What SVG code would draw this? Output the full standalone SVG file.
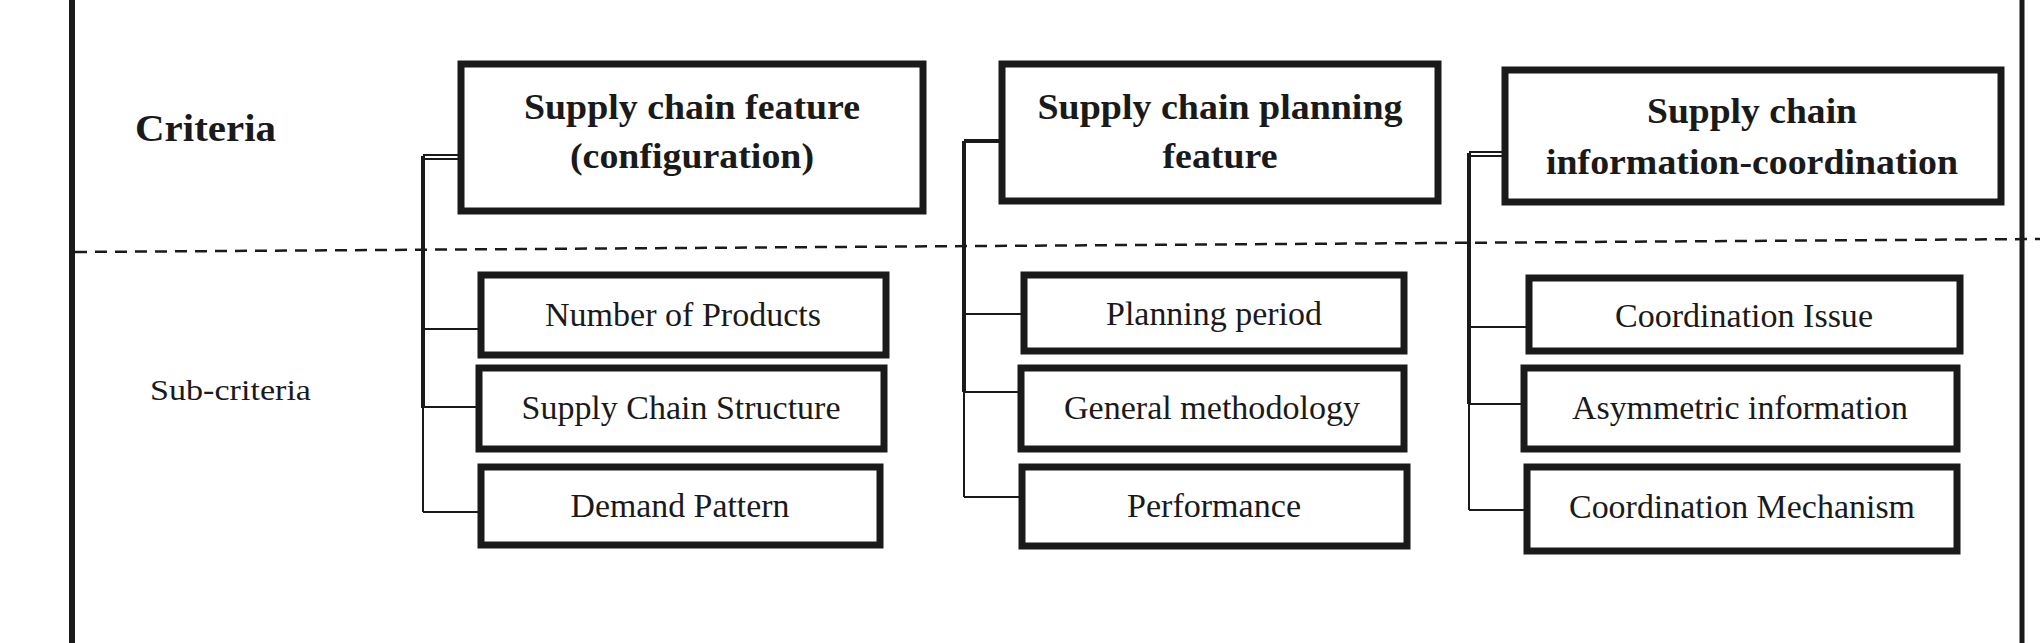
<svg xmlns="http://www.w3.org/2000/svg" width="2040" height="643" viewBox="0 0 2040 643">
<style>
.box{fill:#fff;stroke:#1a1a1a;stroke-width:7}
.h{font-family:"Liberation Serif",serif;font-weight:bold;font-size:36px;fill:#1a1a1a;text-anchor:middle}
.s{font-family:"Liberation Serif",serif;font-size:33px;fill:#1a1a1a;text-anchor:middle}
.thick{stroke:#1a1a1a;stroke-width:4;fill:none}
.thin{stroke:#1a1a1a;stroke-width:2;fill:none}
</style>
<rect width="2040" height="643" fill="#fff"/>
<line x1="72" y1="0" x2="72" y2="643" stroke="#1a1a1a" stroke-width="6"/>
<line x1="2022" y1="0" x2="2022" y2="643" stroke="#1a1a1a" stroke-width="5"/>
<line x1="75" y1="252" x2="2040" y2="239" stroke="#1a1a1a" stroke-width="2.5" stroke-dasharray="12,8"/>
<text x="135" y="141" font-family="Liberation Serif,serif" font-weight="bold" font-size="38" fill="#1a1a1a" textLength="141" lengthAdjust="spacingAndGlyphs">Criteria</text>
<text x="150" y="400" font-family="Liberation Serif,serif" font-size="30" fill="#1a1a1a" textLength="161" lengthAdjust="spacingAndGlyphs">Sub-criteria</text>
<g id="connectors">
<path class="thick" d="M423 156V408"/><path class="thin" d="M423 408V512"/>
<path class="thin" d="M423 155H461M423 159H461"/>
<path class="thin" d="M423 329H481M423 407H479M423 512H481"/>
<path class="thick" d="M964 141V392M964 141H1002"/><path class="thin" d="M964 392V497"/>
<path class="thin" d="M964 314H1023M964 392H1020M964 497H1022"/>
<path class="thick" d="M1469 153V404"/><path class="thin" d="M1469 404V510"/>
<path class="thin" d="M1469 152H1505M1469 156H1505"/>
<path class="thin" d="M1469 327H1529M1469 404H1524M1469 510H1527"/>
</g>
<g id="c1"><rect class="box" x="461" y="64" width="462" height="147"/>
<text class="h" x="692" y="119" textLength="336" lengthAdjust="spacingAndGlyphs">Supply chain feature</text>
<text class="h" x="692" y="168" textLength="244" lengthAdjust="spacingAndGlyphs">(configuration)</text></g>
<g id="c2"><rect class="box" x="1002" y="64" width="436" height="137"/>
<text class="h" x="1220" y="119" textLength="365" lengthAdjust="spacingAndGlyphs">Supply chain planning</text>
<text class="h" x="1220" y="168" textLength="115" lengthAdjust="spacingAndGlyphs">feature</text></g>
<g id="c3"><rect class="box" x="1505" y="70" width="496" height="132"/>
<text class="h" x="1752" y="123" textLength="210" lengthAdjust="spacingAndGlyphs">Supply chain</text>
<text class="h" x="1752" y="174" textLength="412" lengthAdjust="spacingAndGlyphs">information-coordination</text></g>
<g id="s11"><rect class="box" x="481" y="275" width="405" height="80"/><text class="s" x="683" y="326" textLength="276" lengthAdjust="spacingAndGlyphs">Number of Products</text></g>
<g id="s12"><rect class="box" x="479" y="368" width="405" height="81"/><text class="s" x="681" y="419" textLength="319" lengthAdjust="spacingAndGlyphs">Supply Chain Structure</text></g>
<g id="s13"><rect class="box" x="481" y="467" width="399" height="78"/><text class="s" x="680" y="517" textLength="219" lengthAdjust="spacingAndGlyphs">Demand Pattern</text></g>
<g id="s21"><rect class="box" x="1024" y="275" width="380" height="76"/><text class="s" x="1214" y="325" textLength="216" lengthAdjust="spacingAndGlyphs">Planning period</text></g>
<g id="s22"><rect class="box" x="1021" y="368" width="383" height="81"/><text class="s" x="1212" y="419" textLength="296" lengthAdjust="spacingAndGlyphs">General methodology</text></g>
<g id="s23"><rect class="box" x="1022" y="467" width="385" height="79"/><text class="s" x="1214" y="517" textLength="174" lengthAdjust="spacingAndGlyphs">Performance</text></g>
<g id="s31"><rect class="box" x="1529" y="278" width="431" height="73"/><text class="s" x="1744" y="327" textLength="258" lengthAdjust="spacingAndGlyphs">Coordination Issue</text></g>
<g id="s32"><rect class="box" x="1524" y="368" width="433" height="81"/><text class="s" x="1740" y="419" textLength="336" lengthAdjust="spacingAndGlyphs">Asymmetric information</text></g>
<g id="s33"><rect class="box" x="1527" y="467" width="430" height="84"/><text class="s" x="1742" y="518" textLength="346" lengthAdjust="spacingAndGlyphs">Coordination Mechanism</text></g>
</svg>
